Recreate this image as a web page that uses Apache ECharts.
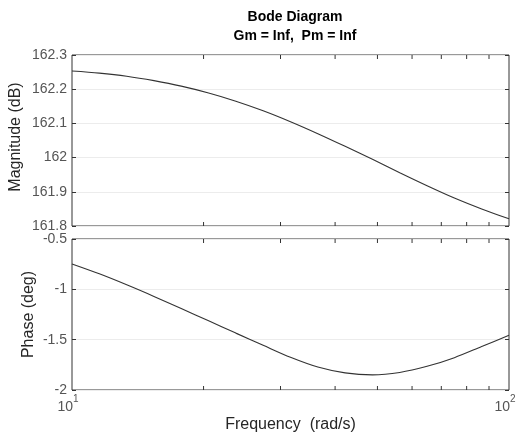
<!DOCTYPE html>
<html>
<head>
<meta charset="utf-8">
<script src="https://cdn.jsdelivr.net/npm/echarts@6/dist/echarts.min.js"></script>
<style>
  html, body { margin: 0; padding: 0; background: #fff; }
  #chart { width: 522px; height: 433px; }
</style>
</head>
<body>
<div id="chart"></div>
<script>
// frequency samples (rad/s), 16 per decade
var freq = [10, 11.55, 13.34, 15.40, 17.78, 20.54, 23.71, 27.38, 31.62,
  36.52, 42.17, 48.70, 56.23, 64.94, 74.99, 86.60, 100];
var magDb = [162.253, 162.247, 162.238, 162.225, 162.209, 162.189, 162.165, 162.137, 162.105,
  162.070, 162.033, 161.995, 161.956, 161.918, 161.882, 161.850, 161.821];
var phaseDeg = [-0.748, -0.846, -0.955, -1.07, -1.19, -1.313, -1.435, -1.556, -1.675,
  -1.772, -1.83, -1.85, -1.826, -1.765, -1.679, -1.568, -1.457];
// log minor tick positions
var minorFreq = [20, 30, 40, 50, 60, 70, 80, 90];

var magRange = [161.8, 162.3];
var phaseRange = [-2, -0.5];

var font = 'Liberation Sans, Arial, sans-serif';
var labelColor = '#555';
var nameColor = '#262626';
var lineColor = '#333';

function pairs(xs, ys) {
  return xs.map(function (x, i) { return [x, ys[i]]; });
}

// small inward ticks at the top and bottom edge of a grid
function minorTicks(range) {
  return function (params, api) {
    var f = api.value(0);
    var top = api.coord([f, range[1]]);
    var bot = api.coord([f, range[0]]);
    var style = { stroke: lineColor, lineWidth: 1 };
    return {
      type: 'group',
      children: [
        { type: 'line', shape: { x1: top[0], y1: top[1], x2: top[0], y2: top[1] + 4 }, style: style },
        { type: 'line', shape: { x1: bot[0], y1: bot[1], x2: bot[0], y2: bot[1] - 4 }, style: style }
      ]
    };
  };
}

function xAxisBase(grid, showLabel) {
  return {
    type: 'log',
    logBase: 10,
    gridIndex: grid,
    min: 10,
    max: 100,
    nameMoveOverlap: false,
    axisLine: { show: false },
    axisTick: { show: false },
    splitLine: { show: false },
    axisLabel: {
      show: showLabel,
      margin: 4,
      padding: [0, 8, 0, 0],
      color: labelColor,
      fontFamily: font,
      formatter: function (v) {
        return '{b|10}{s|' + Math.round(Math.log10(v)) + '}';
      },
      rich: {
        b: { fontSize: 14, color: labelColor, fontFamily: font, lineHeight: 20, verticalAlign: 'bottom' },
        s: { fontSize: 10, color: labelColor, fontFamily: font, verticalAlign: 'top' }
      }
    }
  };
}

function yAxisBase(grid, range, interval, side, fmt) {
  var isLeft = side === 'left';
  return {
    type: 'value',
    gridIndex: grid,
    position: side,
    min: range[0],
    max: range[1],
    interval: interval,
    nameMoveOverlap: false,
    axisLine: { show: false },
    axisTick: { show: true, inside: true, length: 4, lineStyle: { color: lineColor } },
    splitLine: { show: isLeft, lineStyle: { color: '#ececec', width: 1 } },
    axisLabel: {
      show: isLeft,
      margin: 5,
      color: labelColor,
      fontSize: 14,
      fontFamily: font,
      formatter: fmt
    }
  };
}

var magAxis = yAxisBase(0, magRange, 0.1, 'left', function (v) { return String(Math.round(v * 10) / 10); });
magAxis.name = 'Magnitude (dB)';
magAxis.nameLocation = 'middle';
magAxis.nameGap = 48;
magAxis.nameTextStyle = { color: nameColor, fontSize: 16, fontFamily: font, padding: [0, 0, 0, 7] };

var phaseAxis = yAxisBase(1, phaseRange, 0.5, 'left', function (v) { return String(v); });
phaseAxis.name = 'Phase (deg)';
phaseAxis.nameLocation = 'middle';
phaseAxis.nameGap = 35;
phaseAxis.nameTextStyle = { color: nameColor, fontSize: 16, fontFamily: font };

var freqAxis = xAxisBase(1, true);
freqAxis.name = 'Frequency  (rad/s)';
freqAxis.nameLocation = 'middle';
freqAxis.nameGap = 27;
freqAxis.nameTextStyle = { color: nameColor, fontSize: 16, fontFamily: font };

var option = {
  backgroundColor: '#fff',
  animation: false,
  title: {
    text: 'Bode Diagram\nGm = Inf,  Pm = Inf',
    left: 290,
    top: 3,
    textAlign: 'center',
    textStyle: { fontSize: 14, fontWeight: 'bold', color: '#000', fontFamily: font, lineHeight: 19 }
  },
  grid: [
    { left: 72, right: 13, top: 55, height: 171, outerBoundsMode: 'none', show: true, borderColor: lineColor, borderWidth: 1, backgroundColor: 'transparent' },
    { left: 72, right: 13, top: 239, height: 151, outerBoundsMode: 'none', show: true, borderColor: lineColor, borderWidth: 1, backgroundColor: 'transparent' }
  ],
  xAxis: [xAxisBase(0, false), freqAxis],
  yAxis: [
    magAxis,
    yAxisBase(0, magRange, 0.1, 'right'),
    phaseAxis,
    yAxisBase(1, phaseRange, 0.5, 'right')
  ],
  series: [
    {
      type: 'line', xAxisIndex: 0, yAxisIndex: 0,
      data: pairs(freq, magDb), smooth: 0.3, showSymbol: false,
      lineStyle: { color: lineColor, width: 1.1 }
    },
    {
      type: 'line', xAxisIndex: 1, yAxisIndex: 2,
      data: pairs(freq, phaseDeg), smooth: 0.3, showSymbol: false,
      lineStyle: { color: lineColor, width: 1.1 }
    },
    {
      type: 'custom', xAxisIndex: 0, yAxisIndex: 0,
      data: minorFreq.map(function (f) { return [f, magRange[0]]; }),
      renderItem: minorTicks(magRange), clip: false, silent: true
    },
    {
      type: 'custom', xAxisIndex: 1, yAxisIndex: 2,
      data: minorFreq.map(function (f) { return [f, phaseRange[0]]; }),
      renderItem: minorTicks(phaseRange), clip: false, silent: true
    }
  ]
};

echarts.init(document.getElementById('chart')).setOption(option);
</script>
</body>
</html>
